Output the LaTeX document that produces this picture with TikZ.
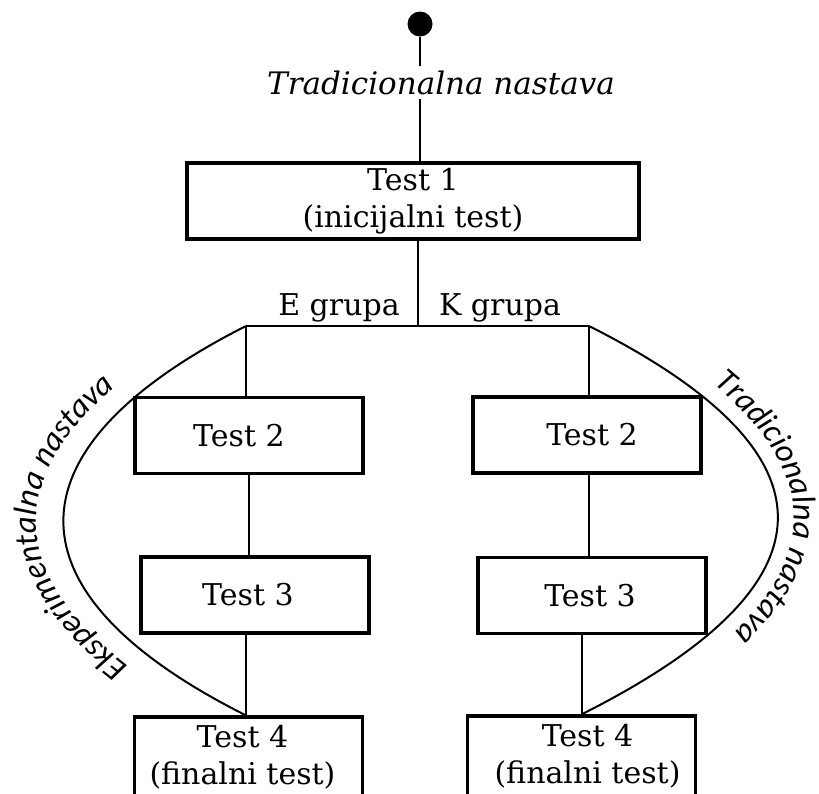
\documentclass[tikz,border=0pt]{standalone}
\usepackage{fontspec}
\setmainfont{DejaVu Serif}
\newfontfamily\curvefont{Carlito}
\usetikzlibrary{decorations.text}

% shift a line of text sideways without changing its width
\newcommand\nudge[2]{\hbox{\kern#1\relax#2\kern-#1\relax}}

\begin{document}
\begin{tikzpicture}[x=1pt,y=-1pt,
  box/.style={draw, line width=3.2pt, minimum width=228pt, minimum height=76pt,
    inner sep=0pt, align=center, font=\fontsize{30}{37}\selectfont},
  conn/.style={line width=2pt},
  arcline/.style={line width=2pt},
  lbl/.style={font=\fontsize{30}{36}\selectfont, inner sep=0pt}]

\useasboundingbox (0,0) rectangle (819,793);
\clip (0,0) rectangle (819,793);

% start point and first test
\node[fill, circle, inner sep=0pt, minimum size=25pt] (dot) at (420,24) {};
\node[lbl, font=\fontsize{31}{36}\selectfont\itshape, anchor=base, inner sep=4pt] (top) at (441,94) {Tradicionalna nastava};
\node[box, minimum width=452pt] (t1) at (413,201) {Test 1\\(inicijalni test)};

% group labels
\node[lbl, anchor=base] (eg) at (339,315) {E grupa};
\node[lbl, anchor=base] (kg) at (500,315) {K grupa};

% E group column
\node[box] (t2l) at (249,435.5) {\nudge{-10pt}{Test 2}};
\node[box] (t3l) at (255,595) {\nudge{-7pt}{Test 3}};
\node[box, minimum height=80pt] (t4l) at (248.5,757) {\nudge{-6pt}{Test 4}\\\nudge{-6pt}{(finalni test)}};

% K group column
\node[box] (t2r) at (587,435) {\nudge{5pt}{Test 2}};
\node[box] (t3r) at (592,595.5) {\nudge{-2pt}{Test 3}};
\node[box, minimum height=80pt] (t4r) at (581.5,756) {\nudge{6pt}{Test 4}\\\nudge{6pt}{(finalni test)}};

% branching points
\coordinate (jc) at (418,326);
\coordinate (jl) at (246,326);
\coordinate (jr) at (589,326);

% connectors
\draw[conn] (dot) -- (dot |- top.north);
\draw[conn] (dot |- top.south) -- (dot |- t1.north);
\draw[conn] (jc |- t1.south) -- (jc);
\draw[conn] (jl) -- (jr);
\draw[conn] (jl) -- (jl |- t2l.north);
\draw[conn] (t2l.south) -- (t2l.south |- t3l.north);
\draw[conn] (jl |- t3l.south) -- (jl |- t4l.north);
\draw[conn] (jr) -- (jr |- t2r.north);
\draw[conn] (jr |- t2r.south) -- (jr |- t3r.north);
\draw[conn] (t4r.north |- t3r.south) -- (t4r.north);

% curved arcs around each column
\draw[arcline] (jl) .. controls (3,449) and (2,593) .. (jl |- t4l.north);
\draw[arcline] (jr) .. controls (845,455) and (839,585) .. (t4r.north);

% labels on baselines running just outside the arcs
\path[decorate, decoration={text along path, text align=left,
    text align/left indent=128pt,
    text={|\curvefont\itshape\fontsize{33}{40}\selectfont|Eksperimentalna nastava}}]
  (237,733) .. controls (-31,597) and (-30,445) .. (238,310);
\path[decorate, decoration={text along path, text align=left,
    text align/left indent=138pt,
    text={|\curvefont\itshape\fontsize{33}{40}\selectfont|Tradicionalna nastava}}]
  (598,308) .. controls (864,455) and (858,585) .. (590,734);

\end{tikzpicture}
\end{document}
